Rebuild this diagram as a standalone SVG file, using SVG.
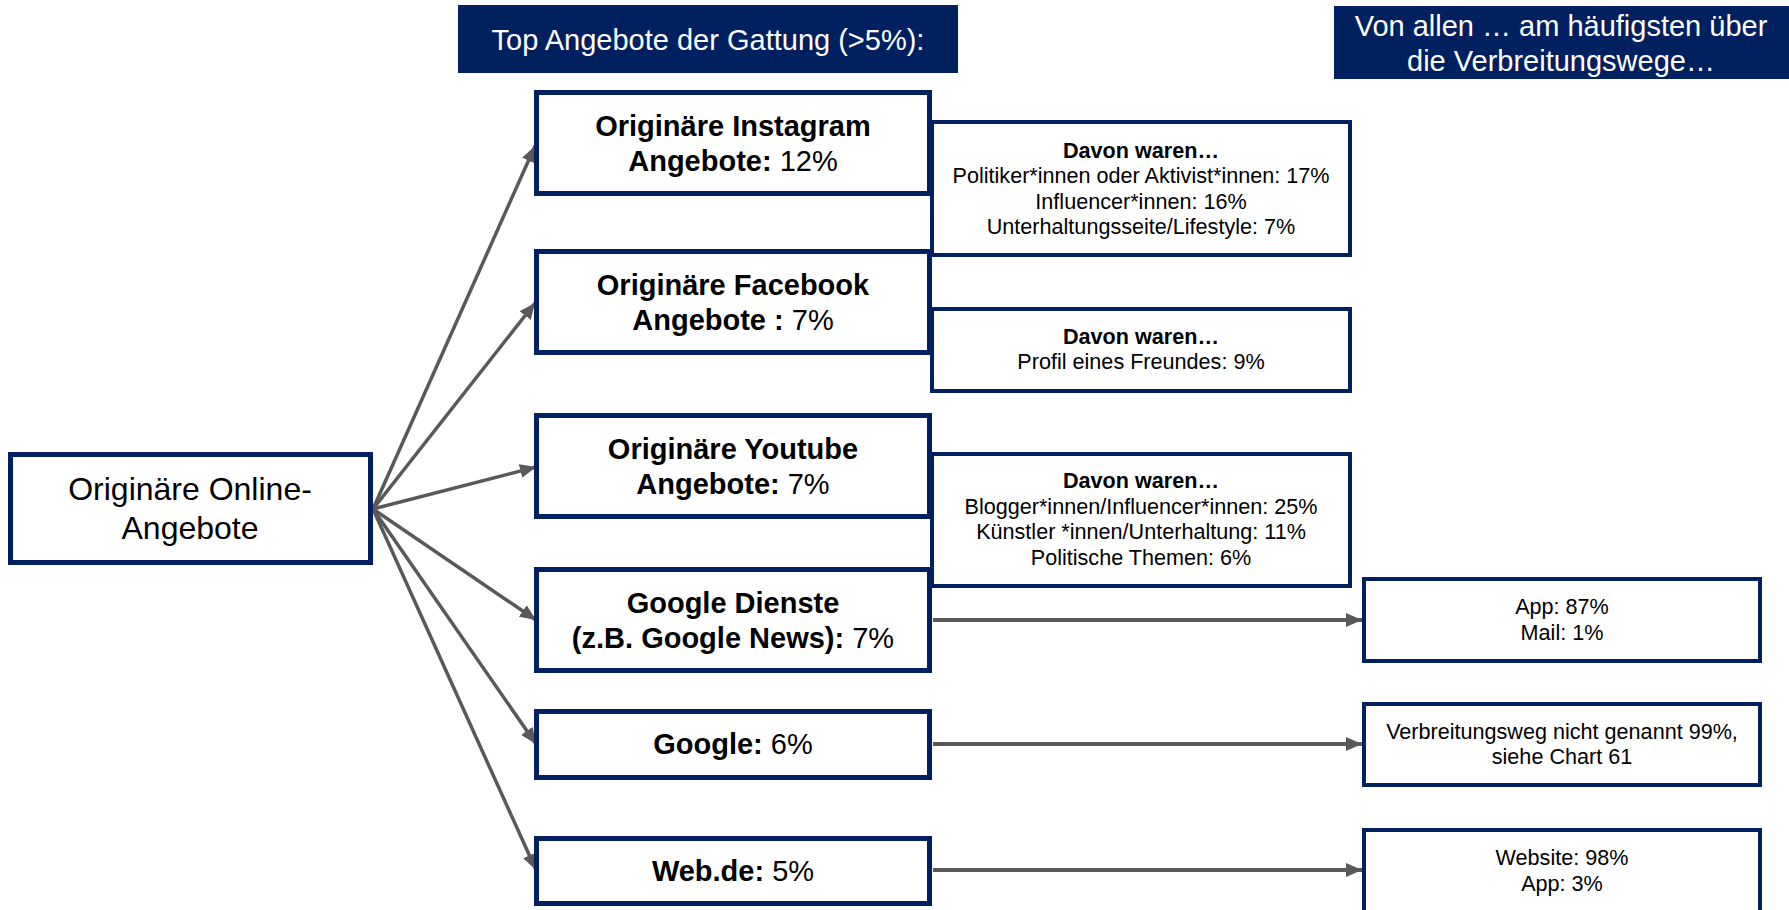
<svg xmlns="http://www.w3.org/2000/svg" width="1789" height="910" viewBox="0 0 1789 910">
<defs>
<style>
.node{fill:#ffffff;stroke:#002060;stroke-width:5}
.info{fill:#ffffff;stroke:#002060;stroke-width:4}
.hdr{fill:#002060}
.t{font-family:"Liberation Sans",Arial,sans-serif;fill:#000000;text-anchor:middle}
.big{font-size:29px}
.left{font-size:32px}
.small{font-size:21.6px}
.w{fill:#ffffff}
.b{font-weight:bold}
.con{stroke:#595959;fill:none}
.fan{stroke-width:3.5}
.hor{stroke-width:4}
</style>
<marker id="ah" markerUnits="userSpaceOnUse" markerWidth="16" markerHeight="14" refX="16" refY="7" orient="auto">
<path d="M0,0 L16,7 L0,14 z" fill="#595959"/>
</marker>
</defs>
<rect width="1789" height="910" fill="#ffffff"/>

<g id="header-top">
<rect class="hdr" x="458" y="5" width="500" height="68"/>
<text class="t big w" x="708" y="50">Top Angebote der Gattung (&gt;5%):</text>
</g>
<g id="header-right">
<rect class="hdr" x="1334" y="6" width="455" height="73"/>
<text class="t big w" x="1561" y="36">Von allen … am häufigsten über</text>
<text class="t big w" x="1561" y="71">die Verbreitungswege…</text>
</g>

<g id="info-instagram">
<rect class="info" x="932" y="122" width="418" height="133"/>
<text class="t small b" x="1141" y="158">Davon waren…</text>
<text class="t small" x="1141" y="183">Politiker*innen oder Aktivist*innen: 17%</text>
<text class="t small" x="1141" y="209">Influencer*innen: 16%</text>
<text class="t small" x="1141" y="234">Unterhaltungsseite/Lifestyle: 7%</text>
</g>
<g id="info-facebook">
<rect class="info" x="932" y="309" width="418" height="82"/>
<text class="t small b" x="1141" y="344">Davon waren…</text>
<text class="t small" x="1141" y="369">Profil eines Freundes: 9%</text>
</g>
<g id="info-youtube">
<rect class="info" x="932" y="454" width="418" height="132"/>
<text class="t small b" x="1141" y="488">Davon waren…</text>
<text class="t small" x="1141" y="514">Blogger*innen/Influencer*innen: 25%</text>
<text class="t small" x="1141" y="539">Künstler *innen/Unterhaltung: 11%</text>
<text class="t small" x="1141" y="565">Politische Themen: 6%</text>
</g>

<g id="connectors">
<line class="con fan" x1="373" y1="509" x2="535" y2="146" marker-end="url(#ah)"/>
<line class="con fan" x1="373" y1="509" x2="535" y2="303" marker-end="url(#ah)"/>
<line class="con fan" x1="373" y1="509" x2="536" y2="467" marker-end="url(#ah)"/>
<line class="con fan" x1="373" y1="509" x2="536" y2="620" marker-end="url(#ah)"/>
<line class="con fan" x1="373" y1="509" x2="536" y2="744" marker-end="url(#ah)"/>
<line class="con fan" x1="373" y1="509" x2="536" y2="870" marker-end="url(#ah)"/>
<line class="con hor" x1="933" y1="620" x2="1362" y2="620" marker-end="url(#ah)"/>
<line class="con hor" x1="933" y1="744" x2="1362" y2="744" marker-end="url(#ah)"/>
<line class="con hor" x1="933" y1="870" x2="1362" y2="870" marker-end="url(#ah)"/>
</g>

<g id="node-online">
<rect class="node" x="10.5" y="454.5" width="360" height="108"/>
<text class="t left" x="190" y="500">Originäre Online-</text>
<text class="t left" x="190" y="539">Angebote</text>
</g>
<g id="node-instagram">
<rect class="node" x="536.5" y="92.5" width="393" height="101"/>
<text class="t big b" x="733" y="136">Originäre Instagram</text>
<text class="t big" x="733" y="171"><tspan class="b">Angebote:</tspan> 12%</text>
</g>
<g id="node-facebook">
<rect class="node" x="536.5" y="251.5" width="393" height="101"/>
<text class="t big b" x="733" y="295">Originäre Facebook</text>
<text class="t big" x="733" y="330"><tspan class="b">Angebote :</tspan> 7%</text>
</g>
<g id="node-youtube">
<rect class="node" x="536.5" y="415.5" width="393" height="101"/>
<text class="t big b" x="733" y="459">Originäre Youtube</text>
<text class="t big" x="733" y="494"><tspan class="b">Angebote:</tspan> 7%</text>
</g>
<g id="node-google-dienste">
<rect class="node" x="536.5" y="569.5" width="393" height="101"/>
<text class="t big b" x="733" y="613">Google Dienste</text>
<text class="t big" x="733" y="648"><tspan class="b">(z.B. Google News):</tspan> 7%</text>
</g>
<g id="node-google">
<rect class="node" x="536.5" y="711.5" width="393" height="66"/>
<text class="t big" x="733" y="754"><tspan class="b">Google:</tspan> 6%</text>
</g>
<g id="node-webde">
<rect class="node" x="536.5" y="838.5" width="393" height="65"/>
<text class="t big" x="733" y="881"><tspan class="b">Web.de:</tspan> 5%</text>
</g>

<g id="out-google-dienste">
<rect class="info" x="1364" y="579" width="396" height="82"/>
<text class="t small" x="1562" y="614">App: 87%</text>
<text class="t small" x="1562" y="640">Mail: 1%</text>
</g>
<g id="out-google">
<rect class="info" x="1364" y="704" width="396" height="81"/>
<text class="t small" x="1562" y="739">Verbreitungsweg nicht genannt 99%,</text>
<text class="t small" x="1562" y="764">siehe Chart 61</text>
</g>
<g id="out-webde">
<rect class="info" x="1364" y="830" width="396" height="90"/>
<text class="t small" x="1562" y="865">Website: 98%</text>
<text class="t small" x="1562" y="891">App: 3%</text>
</g>
</svg>
